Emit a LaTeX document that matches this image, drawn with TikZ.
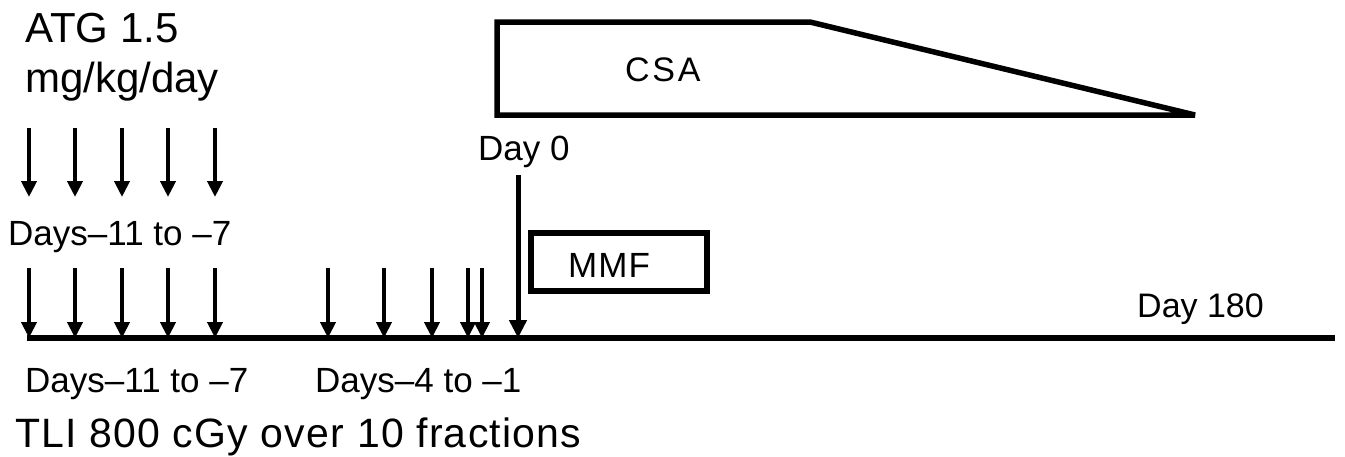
\documentclass[tikz,border=0pt]{standalone}
\usepackage{fontspec}
\setmainfont{Liberation Sans}
\usetikzlibrary{arrows.meta}
\begin{document}
\begin{tikzpicture}[x=1pt,y=-1pt,
  lbl/.style={inner sep=0pt,anchor=base west,font=\fontsize{35}{38}\selectfont},
  big/.style={lbl,font=\fontsize{42}{46}\selectfont},
  dose/.style={line width=4.2pt,-{Triangle[width=15pt,length=16pt]}},
  thick box/.style={line width=5.5pt,line join=miter,miter limit=2}]
\useasboundingbox (0,0) rectangle (1345,456);

% ATG label
\node[big] (atg) at (25,42) {ATG 1.5};
\node[big] (dose) at (25,92) {mg/kg/day};

% ATG doses
\foreach \x [count=\i] in {29,75,122,168,215}{
  \coordinate (a\i t) at (\x,128);
  \coordinate (a\i b) at (\x,197);
  \draw[dose] (a\i t) -- (a\i b);
}
\node[lbl] (atgdays) at (8,245) {Days–11 to –7};

% timeline axis
\coordinate (ax0) at (27,338);
\coordinate (ax1) at (1335,338);
\draw[line width=5.5pt] (ax0) -- (ax1);

% TLI fractions
\foreach \x [count=\i] in {29,75,122,168,215,328,384,432,468,482}{
  \coordinate (f\i t) at (\x,268);
  \coordinate (f\i b) at (\x,338);
  \draw[dose] (f\i t) -- (f\i b);
}

% Day 0
\node[lbl] (day0) at (478,160) {Day 0};
\coordinate (d0t) at (518,175);
\coordinate (d0b) at (518,338);
\draw[line width=5pt,-{Triangle[width=17pt,length=18pt]}] (d0t) -- (d0b);

% CSA taper
\draw[thick box] (497,22) -- (810,22) -- (1195,115) -- (497,115) -- cycle;
\node[lbl,font=\fontsize{34}{38}\selectfont\addfontfeatures{LetterSpace=8}] (csa) at (625,81) {CSA};

% MMF
\draw[thick box] (531,233) rectangle (707,291);
\node[lbl,font=\fontsize{35}{38}\selectfont\addfontfeatures{LetterSpace=3}] (mmf) at (568,277) {MMF};

% Day 180
\node[lbl,font=\fontsize{34}{38}\selectfont] (day180) at (1137,317) {Day 180};

% bottom labels
\node[lbl] (tlidays1) at (25,392) {Days–11 to –7};
\node[lbl] (tlidays2) at (315,392) {Days–4 to –1};
\node[lbl,font=\fontsize{41}{44}\selectfont\addfontfeatures{LetterSpace=3}] (tli) at (15,447) {TLI 800 cGy over 10 fractions};
\end{tikzpicture}
\end{document}
